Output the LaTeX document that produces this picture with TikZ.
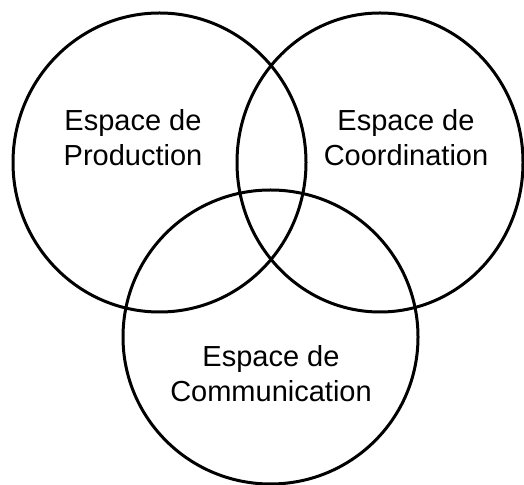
\documentclass[tikz,border=0pt]{standalone}
\usepackage{fontspec}
\setmainfont{Liberation Sans}
\begin{document}
\begin{tikzpicture}[x=1pt,y=1pt,
  ring/.style={draw=black,line width=3pt},
  label/.style={align=center,inner sep=0pt,font=\fontsize{29}{35.5}\selectfont}]
\useasboundingbox (0,0) rectangle (524,484);
\draw[ring] (159.5,321.5) ellipse [x radius=146.5,y radius=149.5];
\draw[ring] (380,321.5) ellipse [x radius=143,y radius=149.5];
\draw[ring] (270.5,147) ellipse [x radius=147.5,y radius=147];
\node[label] (prod) at (133,346.25) {Espace de\\Production};
\node[label] (coord) at (406,346.5) {Espace de\\Coordination};
\node[label] (comm) at (271,110.5) {Espace de\\Communication};
\end{tikzpicture}
\end{document}
